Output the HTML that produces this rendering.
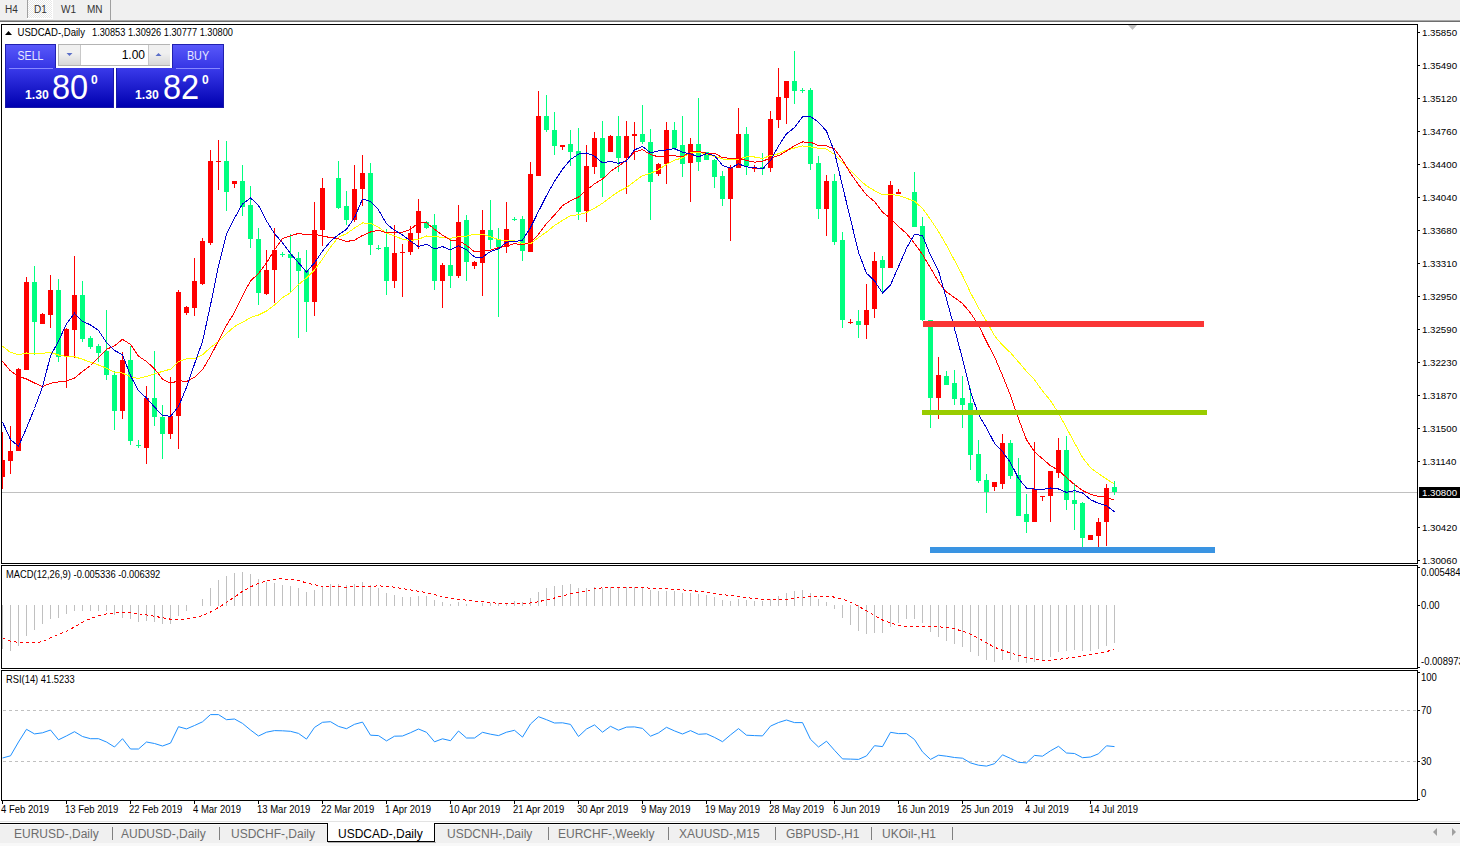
<!DOCTYPE html>
<html><head><meta charset="utf-8"><style>
html,body{margin:0;padding:0;}
body{width:1460px;height:846px;position:relative;overflow:hidden;background:#fff;font-family:"Liberation Sans",sans-serif;}
.abs{position:absolute;}
svg text{font-family:"Liberation Sans",sans-serif;}
.ax{font-size:9.7px;fill:#000;}
.dt{font-size:10.2px;fill:#000;}
.mx{font-size:10.2px;fill:#000;}
.tb{position:absolute;top:1px;height:18px;font-size:10px;color:#333;line-height:18px;}
.tab{position:absolute;top:827px;font-size:12px;color:#6d6d6d;line-height:14px;white-space:nowrap;}
.sep{position:absolute;top:827px;width:1px;height:13px;background:#808080;}
</style></head><body>
<div class="abs" style="left:0;top:0;width:1460px;height:20px;background:#f0f0f0"></div>
<div class="abs" style="left:27px;top:0;width:1px;height:18px;background:#a0a0a0"></div>
<div class="abs" style="left:28px;top:0;width:24px;height:18px;background:repeating-conic-gradient(#ffffff 0% 25%, #e8e8e8 0% 50%) 0 0/2px 2px"></div>
<div class="abs" style="left:52px;top:0;width:1px;height:19px;background:#fff"></div>
<div class="abs" style="left:27px;top:18px;width:26px;height:1px;background:#fff"></div>
<div class="abs" style="left:110px;top:0;width:1px;height:20px;background:#a0a0a0"></div>
<div class="tb" style="left:5px">H4</div>
<div class="tb" style="left:34px">D1</div>
<div class="tb" style="left:61px">W1</div>
<div class="tb" style="left:87px">MN</div>
<div class="abs" style="left:0;top:20px;width:1460px;height:1px;background:#a8a8a8"></div>
<div class="abs" style="left:0;top:21px;width:1460px;height:1px;background:#6e6e6e"></div>
<svg class="abs" style="left:0;top:0" width="1460" height="846" viewBox="0 0 1460 846">
<g shape-rendering="crispEdges">
<rect x="1" y="24" width="1416" height="539" fill="none" stroke="#000" stroke-width="1" transform="translate(0.5,0.5)"/>
</g>
<svg x="2" y="25" width="1415" height="538" viewBox="2 25 1415 538" overflow="hidden">
<rect x="2" y="492" width="1415" height="1" fill="#c0c0c0" shape-rendering="crispEdges"/>
<g shape-rendering="crispEdges"><rect x="2" y="432" width="1" height="57" fill="#ff0000"/>
<rect x="0" y="460" width="5" height="17" fill="#ff0000"/>
<rect x="10" y="426" width="1" height="48" fill="#ff0000"/>
<rect x="8" y="451" width="5" height="10" fill="#ff0000"/>
<rect x="18" y="368" width="1" height="83" fill="#ff0000"/>
<rect x="16" y="369" width="5" height="82" fill="#ff0000"/>
<rect x="26" y="277" width="1" height="93" fill="#ff0000"/>
<rect x="24" y="282" width="5" height="88" fill="#ff0000"/>
<rect x="34" y="266" width="1" height="89" fill="#00ff7f"/>
<rect x="32" y="282" width="5" height="40" fill="#00ff7f"/>
<rect x="42" y="313" width="1" height="11" fill="#ff0000"/>
<rect x="40" y="314" width="5" height="10" fill="#ff0000"/>
<rect x="50" y="275" width="1" height="53" fill="#ff0000"/>
<rect x="48" y="290" width="5" height="25" fill="#ff0000"/>
<rect x="58" y="279" width="1" height="83" fill="#00ff7f"/>
<rect x="56" y="290" width="5" height="67" fill="#00ff7f"/>
<rect x="66" y="328" width="1" height="60" fill="#ff0000"/>
<rect x="64" y="329" width="5" height="28" fill="#ff0000"/>
<rect x="74" y="256" width="1" height="102" fill="#ff0000"/>
<rect x="72" y="295" width="5" height="35" fill="#ff0000"/>
<rect x="82" y="281" width="1" height="61" fill="#00ff7f"/>
<rect x="80" y="295" width="5" height="44" fill="#00ff7f"/>
<rect x="90" y="336" width="1" height="13" fill="#00ff7f"/>
<rect x="88" y="338" width="5" height="9" fill="#00ff7f"/>
<rect x="98" y="344" width="1" height="18" fill="#00ff7f"/>
<rect x="96" y="346" width="5" height="7" fill="#00ff7f"/>
<rect x="106" y="310" width="1" height="70" fill="#00ff7f"/>
<rect x="104" y="351" width="5" height="24" fill="#00ff7f"/>
<rect x="114" y="371" width="1" height="59" fill="#00ff7f"/>
<rect x="112" y="375" width="5" height="36" fill="#00ff7f"/>
<rect x="122" y="352" width="1" height="67" fill="#ff0000"/>
<rect x="120" y="360" width="5" height="51" fill="#ff0000"/>
<rect x="130" y="346" width="1" height="99" fill="#00ff7f"/>
<rect x="128" y="360" width="5" height="81" fill="#00ff7f"/>
<rect x="138" y="440" width="1" height="8" fill="#00ff7f"/>
<rect x="136" y="445" width="5" height="1" fill="#00ff7f"/>
<rect x="146" y="386" width="1" height="78" fill="#ff0000"/>
<rect x="144" y="398" width="5" height="50" fill="#ff0000"/>
<rect x="154" y="351" width="1" height="75" fill="#00ff7f"/>
<rect x="152" y="398" width="5" height="19" fill="#00ff7f"/>
<rect x="162" y="405" width="1" height="54" fill="#00ff7f"/>
<rect x="160" y="417" width="5" height="17" fill="#00ff7f"/>
<rect x="170" y="377" width="1" height="62" fill="#ff0000"/>
<rect x="168" y="416" width="5" height="18" fill="#ff0000"/>
<rect x="178" y="290" width="1" height="159" fill="#ff0000"/>
<rect x="176" y="292" width="5" height="124" fill="#ff0000"/>
<rect x="186" y="306" width="1" height="9" fill="#ff0000"/>
<rect x="184" y="307" width="5" height="6" fill="#ff0000"/>
<rect x="194" y="258" width="1" height="58" fill="#ff0000"/>
<rect x="192" y="281" width="5" height="27" fill="#ff0000"/>
<rect x="202" y="238" width="1" height="47" fill="#ff0000"/>
<rect x="200" y="241" width="5" height="43" fill="#ff0000"/>
<rect x="210" y="150" width="1" height="95" fill="#ff0000"/>
<rect x="208" y="161" width="5" height="82" fill="#ff0000"/>
<rect x="218" y="140" width="1" height="50" fill="#ff0000"/>
<rect x="216" y="161" width="5" height="1" fill="#ff0000"/>
<rect x="226" y="141" width="1" height="70" fill="#00ff7f"/>
<rect x="224" y="161" width="5" height="31" fill="#00ff7f"/>
<rect x="234" y="181" width="1" height="7" fill="#ff0000"/>
<rect x="232" y="181" width="5" height="3" fill="#ff0000"/>
<rect x="242" y="165" width="1" height="51" fill="#00ff7f"/>
<rect x="240" y="181" width="5" height="26" fill="#00ff7f"/>
<rect x="250" y="186" width="1" height="62" fill="#00ff7f"/>
<rect x="248" y="205" width="5" height="34" fill="#00ff7f"/>
<rect x="258" y="228" width="1" height="77" fill="#00ff7f"/>
<rect x="256" y="239" width="5" height="54" fill="#00ff7f"/>
<rect x="266" y="250" width="1" height="45" fill="#ff0000"/>
<rect x="264" y="270" width="5" height="24" fill="#ff0000"/>
<rect x="274" y="228" width="1" height="75" fill="#ff0000"/>
<rect x="272" y="250" width="5" height="20" fill="#ff0000"/>
<rect x="282" y="252" width="1" height="5" fill="#00ff7f"/>
<rect x="280" y="254" width="5" height="1" fill="#00ff7f"/>
<rect x="290" y="234" width="1" height="58" fill="#00ff7f"/>
<rect x="288" y="254" width="5" height="4" fill="#00ff7f"/>
<rect x="298" y="252" width="1" height="86" fill="#00ff7f"/>
<rect x="296" y="258" width="5" height="13" fill="#00ff7f"/>
<rect x="306" y="250" width="1" height="82" fill="#00ff7f"/>
<rect x="304" y="270" width="5" height="32" fill="#00ff7f"/>
<rect x="314" y="202" width="1" height="114" fill="#ff0000"/>
<rect x="312" y="230" width="5" height="72" fill="#ff0000"/>
<rect x="322" y="178" width="1" height="68" fill="#ff0000"/>
<rect x="320" y="188" width="5" height="42" fill="#ff0000"/>
<rect x="338" y="161" width="1" height="48" fill="#00ff7f"/>
<rect x="336" y="178" width="5" height="30" fill="#00ff7f"/>
<rect x="346" y="191" width="1" height="34" fill="#00ff7f"/>
<rect x="344" y="206" width="5" height="14" fill="#00ff7f"/>
<rect x="354" y="165" width="1" height="57" fill="#ff0000"/>
<rect x="352" y="189" width="5" height="31" fill="#ff0000"/>
<rect x="362" y="155" width="1" height="51" fill="#ff0000"/>
<rect x="360" y="173" width="5" height="16" fill="#ff0000"/>
<rect x="370" y="163" width="1" height="92" fill="#00ff7f"/>
<rect x="368" y="173" width="5" height="72" fill="#00ff7f"/>
<rect x="378" y="245" width="1" height="5" fill="#00ff7f"/>
<rect x="376" y="248" width="5" height="1" fill="#00ff7f"/>
<rect x="386" y="229" width="1" height="66" fill="#00ff7f"/>
<rect x="384" y="247" width="5" height="34" fill="#00ff7f"/>
<rect x="394" y="225" width="1" height="63" fill="#ff0000"/>
<rect x="392" y="253" width="5" height="28" fill="#ff0000"/>
<rect x="402" y="244" width="1" height="53" fill="#ff0000"/>
<rect x="400" y="252" width="5" height="1" fill="#ff0000"/>
<rect x="410" y="226" width="1" height="29" fill="#ff0000"/>
<rect x="408" y="233" width="5" height="19" fill="#ff0000"/>
<rect x="418" y="199" width="1" height="50" fill="#ff0000"/>
<rect x="416" y="211" width="5" height="22" fill="#ff0000"/>
<rect x="426" y="221" width="1" height="8" fill="#00ff7f"/>
<rect x="424" y="222" width="5" height="6" fill="#00ff7f"/>
<rect x="434" y="214" width="1" height="76" fill="#00ff7f"/>
<rect x="432" y="225" width="5" height="56" fill="#00ff7f"/>
<rect x="442" y="263" width="1" height="45" fill="#ff0000"/>
<rect x="440" y="265" width="5" height="16" fill="#ff0000"/>
<rect x="450" y="238" width="1" height="50" fill="#00ff7f"/>
<rect x="448" y="265" width="5" height="11" fill="#00ff7f"/>
<rect x="458" y="205" width="1" height="73" fill="#ff0000"/>
<rect x="456" y="222" width="5" height="54" fill="#ff0000"/>
<rect x="466" y="215" width="1" height="66" fill="#00ff7f"/>
<rect x="464" y="220" width="5" height="42" fill="#00ff7f"/>
<rect x="474" y="261" width="1" height="8" fill="#ff0000"/>
<rect x="472" y="262" width="5" height="4" fill="#ff0000"/>
<rect x="482" y="210" width="1" height="86" fill="#ff0000"/>
<rect x="480" y="230" width="5" height="33" fill="#ff0000"/>
<rect x="490" y="200" width="1" height="49" fill="#00ff7f"/>
<rect x="488" y="230" width="5" height="10" fill="#00ff7f"/>
<rect x="498" y="228" width="1" height="89" fill="#00ff7f"/>
<rect x="496" y="239" width="5" height="8" fill="#00ff7f"/>
<rect x="506" y="202" width="1" height="51" fill="#ff0000"/>
<rect x="504" y="229" width="5" height="18" fill="#ff0000"/>
<rect x="514" y="217" width="1" height="4" fill="#00ff7f"/>
<rect x="512" y="219" width="5" height="1" fill="#00ff7f"/>
<rect x="522" y="216" width="1" height="45" fill="#00ff7f"/>
<rect x="520" y="219" width="5" height="32" fill="#00ff7f"/>
<rect x="530" y="162" width="1" height="90" fill="#ff0000"/>
<rect x="528" y="174" width="5" height="78" fill="#ff0000"/>
<rect x="538" y="91" width="1" height="85" fill="#ff0000"/>
<rect x="536" y="116" width="5" height="60" fill="#ff0000"/>
<rect x="546" y="95" width="1" height="37" fill="#00ff7f"/>
<rect x="544" y="116" width="5" height="14" fill="#00ff7f"/>
<rect x="554" y="112" width="1" height="43" fill="#00ff7f"/>
<rect x="552" y="130" width="5" height="16" fill="#00ff7f"/>
<rect x="562" y="145" width="1" height="5" fill="#ff0000"/>
<rect x="560" y="145" width="5" height="2" fill="#ff0000"/>
<rect x="570" y="130" width="1" height="36" fill="#00ff7f"/>
<rect x="568" y="144" width="5" height="8" fill="#00ff7f"/>
<rect x="578" y="128" width="1" height="92" fill="#00ff7f"/>
<rect x="576" y="151" width="5" height="61" fill="#00ff7f"/>
<rect x="586" y="145" width="1" height="77" fill="#ff0000"/>
<rect x="584" y="166" width="5" height="45" fill="#ff0000"/>
<rect x="594" y="132" width="1" height="42" fill="#ff0000"/>
<rect x="592" y="138" width="5" height="29" fill="#ff0000"/>
<rect x="602" y="121" width="1" height="76" fill="#00ff7f"/>
<rect x="600" y="138" width="5" height="40" fill="#00ff7f"/>
<rect x="610" y="135" width="1" height="17" fill="#ff0000"/>
<rect x="608" y="136" width="5" height="16" fill="#ff0000"/>
<rect x="618" y="116" width="1" height="56" fill="#00ff7f"/>
<rect x="616" y="136" width="5" height="22" fill="#00ff7f"/>
<rect x="626" y="121" width="1" height="73" fill="#ff0000"/>
<rect x="624" y="136" width="5" height="22" fill="#ff0000"/>
<rect x="634" y="122" width="1" height="38" fill="#ff0000"/>
<rect x="632" y="134" width="5" height="2" fill="#ff0000"/>
<rect x="642" y="105" width="1" height="39" fill="#00ff7f"/>
<rect x="640" y="134" width="5" height="8" fill="#00ff7f"/>
<rect x="650" y="129" width="1" height="91" fill="#00ff7f"/>
<rect x="648" y="142" width="5" height="40" fill="#00ff7f"/>
<rect x="658" y="163" width="1" height="13" fill="#ff0000"/>
<rect x="656" y="164" width="5" height="10" fill="#ff0000"/>
<rect x="666" y="122" width="1" height="62" fill="#ff0000"/>
<rect x="664" y="130" width="5" height="34" fill="#ff0000"/>
<rect x="674" y="122" width="1" height="28" fill="#00ff7f"/>
<rect x="672" y="130" width="5" height="18" fill="#00ff7f"/>
<rect x="682" y="116" width="1" height="61" fill="#00ff7f"/>
<rect x="680" y="145" width="5" height="19" fill="#00ff7f"/>
<rect x="690" y="138" width="1" height="64" fill="#ff0000"/>
<rect x="688" y="144" width="5" height="19" fill="#ff0000"/>
<rect x="698" y="98" width="1" height="73" fill="#00ff7f"/>
<rect x="696" y="144" width="5" height="18" fill="#00ff7f"/>
<rect x="706" y="152" width="1" height="8" fill="#00ff7f"/>
<rect x="704" y="152" width="5" height="8" fill="#00ff7f"/>
<rect x="714" y="159" width="1" height="29" fill="#00ff7f"/>
<rect x="712" y="160" width="5" height="17" fill="#00ff7f"/>
<rect x="722" y="171" width="1" height="35" fill="#00ff7f"/>
<rect x="720" y="176" width="5" height="23" fill="#00ff7f"/>
<rect x="730" y="165" width="1" height="76" fill="#ff0000"/>
<rect x="728" y="168" width="5" height="31" fill="#ff0000"/>
<rect x="738" y="108" width="1" height="60" fill="#ff0000"/>
<rect x="736" y="134" width="5" height="34" fill="#ff0000"/>
<rect x="746" y="127" width="1" height="48" fill="#00ff7f"/>
<rect x="744" y="134" width="5" height="32" fill="#00ff7f"/>
<rect x="754" y="165" width="1" height="7" fill="#ff0000"/>
<rect x="752" y="168" width="5" height="1" fill="#ff0000"/>
<rect x="762" y="153" width="1" height="22" fill="#00ff7f"/>
<rect x="760" y="167" width="5" height="2" fill="#00ff7f"/>
<rect x="770" y="111" width="1" height="61" fill="#ff0000"/>
<rect x="768" y="119" width="5" height="49" fill="#ff0000"/>
<rect x="778" y="68" width="1" height="60" fill="#ff0000"/>
<rect x="776" y="97" width="5" height="23" fill="#ff0000"/>
<rect x="786" y="81" width="1" height="43" fill="#ff0000"/>
<rect x="784" y="81" width="5" height="17" fill="#ff0000"/>
<rect x="794" y="51" width="1" height="53" fill="#00ff7f"/>
<rect x="792" y="81" width="5" height="10" fill="#00ff7f"/>
<rect x="802" y="88" width="1" height="5" fill="#00ff7f"/>
<rect x="800" y="90" width="5" height="1" fill="#00ff7f"/>
<rect x="810" y="88" width="1" height="82" fill="#00ff7f"/>
<rect x="808" y="90" width="5" height="74" fill="#00ff7f"/>
<rect x="818" y="156" width="1" height="63" fill="#00ff7f"/>
<rect x="816" y="163" width="5" height="46" fill="#00ff7f"/>
<rect x="826" y="175" width="1" height="61" fill="#ff0000"/>
<rect x="824" y="181" width="5" height="28" fill="#ff0000"/>
<rect x="834" y="174" width="1" height="71" fill="#00ff7f"/>
<rect x="832" y="181" width="5" height="61" fill="#00ff7f"/>
<rect x="842" y="232" width="1" height="96" fill="#00ff7f"/>
<rect x="840" y="240" width="5" height="80" fill="#00ff7f"/>
<rect x="850" y="319" width="1" height="5" fill="#ff0000"/>
<rect x="848" y="322" width="5" height="1" fill="#ff0000"/>
<rect x="858" y="310" width="1" height="28" fill="#00ff7f"/>
<rect x="856" y="321" width="5" height="4" fill="#00ff7f"/>
<rect x="866" y="284" width="1" height="55" fill="#ff0000"/>
<rect x="864" y="310" width="5" height="15" fill="#ff0000"/>
<rect x="874" y="252" width="1" height="66" fill="#ff0000"/>
<rect x="872" y="261" width="5" height="48" fill="#ff0000"/>
<rect x="882" y="256" width="1" height="36" fill="#00ff7f"/>
<rect x="880" y="260" width="5" height="8" fill="#00ff7f"/>
<rect x="890" y="181" width="1" height="87" fill="#ff0000"/>
<rect x="888" y="185" width="5" height="83" fill="#ff0000"/>
<rect x="898" y="189" width="1" height="5" fill="#ff0000"/>
<rect x="896" y="192" width="5" height="2" fill="#ff0000"/>
<rect x="914" y="172" width="1" height="55" fill="#00ff7f"/>
<rect x="912" y="192" width="5" height="35" fill="#00ff7f"/>
<rect x="922" y="217" width="1" height="104" fill="#00ff7f"/>
<rect x="920" y="226" width="5" height="94" fill="#00ff7f"/>
<rect x="930" y="320" width="1" height="108" fill="#00ff7f"/>
<rect x="928" y="320" width="5" height="78" fill="#00ff7f"/>
<rect x="938" y="357" width="1" height="62" fill="#ff0000"/>
<rect x="936" y="375" width="5" height="23" fill="#ff0000"/>
<rect x="946" y="371" width="1" height="14" fill="#00ff7f"/>
<rect x="944" y="376" width="5" height="9" fill="#00ff7f"/>
<rect x="954" y="370" width="1" height="35" fill="#00ff7f"/>
<rect x="952" y="383" width="5" height="16" fill="#00ff7f"/>
<rect x="962" y="376" width="1" height="52" fill="#00ff7f"/>
<rect x="960" y="398" width="5" height="7" fill="#00ff7f"/>
<rect x="970" y="388" width="1" height="82" fill="#00ff7f"/>
<rect x="968" y="403" width="5" height="52" fill="#00ff7f"/>
<rect x="978" y="440" width="1" height="43" fill="#00ff7f"/>
<rect x="976" y="454" width="5" height="27" fill="#00ff7f"/>
<rect x="986" y="474" width="1" height="39" fill="#00ff7f"/>
<rect x="984" y="480" width="5" height="12" fill="#00ff7f"/>
<rect x="994" y="482" width="1" height="9" fill="#ff0000"/>
<rect x="992" y="482" width="5" height="5" fill="#ff0000"/>
<rect x="1002" y="434" width="1" height="55" fill="#ff0000"/>
<rect x="1000" y="443" width="5" height="41" fill="#ff0000"/>
<rect x="1010" y="440" width="1" height="39" fill="#00ff7f"/>
<rect x="1008" y="443" width="5" height="33" fill="#00ff7f"/>
<rect x="1018" y="458" width="1" height="58" fill="#00ff7f"/>
<rect x="1016" y="475" width="5" height="41" fill="#00ff7f"/>
<rect x="1026" y="494" width="1" height="39" fill="#00ff7f"/>
<rect x="1024" y="514" width="5" height="8" fill="#00ff7f"/>
<rect x="1034" y="442" width="1" height="80" fill="#ff0000"/>
<rect x="1032" y="489" width="5" height="33" fill="#ff0000"/>
<rect x="1042" y="496" width="1" height="5" fill="#ff0000"/>
<rect x="1040" y="496" width="5" height="1" fill="#ff0000"/>
<rect x="1050" y="471" width="1" height="51" fill="#ff0000"/>
<rect x="1048" y="471" width="5" height="25" fill="#ff0000"/>
<rect x="1058" y="438" width="1" height="40" fill="#ff0000"/>
<rect x="1056" y="450" width="5" height="23" fill="#ff0000"/>
<rect x="1066" y="436" width="1" height="74" fill="#00ff7f"/>
<rect x="1064" y="450" width="5" height="50" fill="#00ff7f"/>
<rect x="1074" y="483" width="1" height="47" fill="#00ff7f"/>
<rect x="1072" y="500" width="5" height="4" fill="#00ff7f"/>
<rect x="1082" y="502" width="1" height="45" fill="#00ff7f"/>
<rect x="1080" y="503" width="5" height="35" fill="#00ff7f"/>
<rect x="1090" y="535" width="1" height="5" fill="#ff0000"/>
<rect x="1088" y="535" width="5" height="5" fill="#ff0000"/>
<rect x="1098" y="518" width="1" height="29" fill="#ff0000"/>
<rect x="1096" y="522" width="5" height="14" fill="#ff0000"/>
<rect x="1106" y="484" width="1" height="62" fill="#ff0000"/>
<rect x="1104" y="488" width="5" height="34" fill="#ff0000"/>
<rect x="1114" y="481" width="1" height="14" fill="#00ff7f"/>
<rect x="1112" y="487" width="5" height="5" fill="#00ff7f"/>
<polyline points="2.5,346.3 10.5,352.4 18.5,354.7 26.5,353.0 34.5,353.3 42.5,353.3 50.5,352.4 58.5,355.0 66.5,356.5 74.5,356.7 82.5,359.3 90.5,362.2 98.5,365.0 106.5,368.2 114.5,372.3 122.5,373.1 130.5,376.6 138.5,378.5 146.5,376.4 154.5,373.9 162.5,371.4 170.5,369.2 178.5,361.7 186.5,358.7 194.5,358.7 202.5,354.8 210.5,347.6 218.5,341.4 226.5,333.6 234.5,326.5 242.5,322.3 250.5,317.6 258.5,315.0 266.5,311.0 274.5,305.1 282.5,297.7 290.5,292.8 298.5,284.7 306.5,277.9 314.5,269.9 322.5,259.0 330.5,247.1 338.5,237.2 346.5,233.7 354.5,228.1 362.5,223.0 370.5,223.1 378.5,227.3 386.5,233.0 394.5,235.9 402.5,239.3 410.5,240.5 418.5,239.2 426.5,236.0 434.5,236.6 442.5,237.3 450.5,238.3 458.5,236.6 466.5,236.1 474.5,234.2 482.5,234.2 490.5,236.7 498.5,239.7 506.5,240.8 514.5,240.7 522.5,243.7 530.5,243.7 538.5,237.6 546.5,232.0 554.5,225.5 562.5,220.4 570.5,215.6 578.5,214.7 586.5,212.5 594.5,208.2 602.5,203.3 610.5,197.2 618.5,191.5 626.5,187.5 634.5,181.4 642.5,175.7 650.5,173.4 658.5,169.8 666.5,164.2 674.5,160.3 682.5,157.7 690.5,152.6 698.5,152.1 706.5,154.2 714.5,156.4 722.5,158.9 730.5,160.0 738.5,159.1 746.5,156.9 754.5,157.0 762.5,158.4 770.5,155.6 778.5,153.8 786.5,150.1 794.5,148.0 802.5,145.9 810.5,147.0 818.5,148.2 826.5,149.1 834.5,154.5 842.5,162.7 850.5,170.2 858.5,178.8 866.5,185.8 874.5,190.6 882.5,195.0 890.5,194.3 898.5,195.5 906.5,198.3 914.5,201.2 922.5,208.5 930.5,219.4 938.5,231.6 946.5,245.3 954.5,260.4 962.5,275.4 970.5,292.7 978.5,307.8 986.5,321.3 994.5,335.7 1002.5,345.2 1010.5,352.7 1018.5,361.9 1026.5,371.3 1034.5,379.8 1042.5,390.9 1050.5,400.6 1058.5,413.2 1066.5,427.9 1074.5,442.7 1082.5,457.5 1090.5,467.8 1098.5,473.6 1106.5,479.0 1114.5,484.1" fill="none" stroke="#ffff00" stroke-width="1"/>
<polyline points="2.5,361.5 10.5,370.9 18.5,376.3 26.5,379.0 34.5,383.0 42.5,386.5 50.5,383.3 58.5,381.9 66.5,381.0 74.5,378.0 82.5,371.5 90.5,365.5 98.5,357.3 106.5,349.3 114.5,345.8 122.5,339.3 130.5,344.4 138.5,356.1 146.5,361.5 154.5,368.8 162.5,379.1 170.5,383.3 178.5,380.7 186.5,381.5 194.5,377.4 202.5,369.8 210.5,356.1 218.5,340.8 226.5,325.2 234.5,312.4 242.5,295.7 250.5,280.9 258.5,273.5 266.5,263.0 274.5,249.9 282.5,238.4 290.5,235.9 298.5,233.4 306.5,234.9 314.5,234.1 322.5,236.0 330.5,237.6 338.5,238.7 346.5,241.5 354.5,240.2 362.5,235.5 370.5,232.0 378.5,230.4 386.5,232.6 394.5,232.5 402.5,232.1 410.5,229.4 418.5,222.8 426.5,222.7 434.5,229.3 442.5,235.2 450.5,240.1 458.5,240.2 466.5,245.4 474.5,251.8 482.5,250.7 490.5,250.1 498.5,247.7 506.5,246.0 514.5,243.6 522.5,244.9 530.5,242.3 538.5,234.3 546.5,223.5 554.5,215.0 562.5,205.7 570.5,200.7 578.5,197.1 586.5,190.3 594.5,183.7 602.5,179.2 610.5,171.3 618.5,166.2 626.5,160.3 634.5,152.0 642.5,149.7 650.5,154.5 658.5,156.9 666.5,155.7 674.5,155.9 682.5,156.7 690.5,151.9 698.5,151.6 706.5,153.2 714.5,153.2 722.5,157.7 730.5,158.3 738.5,158.2 746.5,160.4 754.5,162.2 762.5,161.2 770.5,158.0 778.5,155.7 786.5,151.0 794.5,145.8 802.5,142.0 810.5,142.1 818.5,145.6 826.5,145.9 834.5,149.0 842.5,159.9 850.5,173.3 858.5,184.7 866.5,194.9 874.5,201.5 882.5,212.2 890.5,218.4 898.5,226.4 906.5,233.6 914.5,243.3 922.5,254.5 930.5,268.0 938.5,281.9 946.5,292.0 954.5,297.6 962.5,303.6 970.5,312.9 978.5,325.1 986.5,341.6 994.5,356.9 1002.5,375.4 1010.5,395.6 1018.5,418.7 1026.5,439.8 1034.5,451.8 1042.5,458.8 1050.5,465.7 1058.5,470.3 1066.5,477.6 1074.5,484.6 1082.5,490.5 1090.5,494.4 1098.5,496.5 1106.5,496.8 1114.5,500.4" fill="none" stroke="#ff0000" stroke-width="1"/>
<polyline points="2.5,422.1 10.5,439.5 18.5,446.2 26.5,428.1 34.5,408.5 42.5,387.0 50.5,355.9 58.5,341.2 66.5,323.8 74.5,313.2 82.5,321.4 90.5,324.9 98.5,330.5 106.5,342.6 114.5,350.4 122.5,354.8 130.5,375.6 138.5,390.8 146.5,398.0 154.5,407.1 162.5,415.5 170.5,416.2 178.5,406.5 186.5,387.4 194.5,364.0 202.5,341.6 210.5,305.0 218.5,266.1 226.5,234.1 234.5,218.2 242.5,203.9 250.5,197.9 258.5,205.4 266.5,220.9 274.5,233.7 282.5,242.7 290.5,253.6 298.5,262.8 306.5,271.9 314.5,262.8 322.5,251.1 330.5,241.4 338.5,234.6 346.5,229.3 354.5,217.6 362.5,199.1 370.5,201.3 378.5,209.8 386.5,223.8 394.5,230.3 402.5,234.9 410.5,241.1 418.5,246.6 426.5,244.1 434.5,248.9 442.5,246.6 450.5,249.9 458.5,245.6 466.5,249.7 474.5,257.0 482.5,257.3 490.5,251.4 498.5,248.9 506.5,242.1 514.5,241.7 522.5,240.1 530.5,227.6 538.5,211.4 546.5,195.6 554.5,181.2 562.5,169.2 570.5,159.6 578.5,154.1 586.5,153.0 594.5,156.1 602.5,162.9 610.5,161.4 618.5,163.3 626.5,161.0 634.5,149.9 642.5,146.4 650.5,152.9 658.5,150.9 666.5,150.0 674.5,148.5 682.5,152.4 690.5,153.9 698.5,156.8 706.5,153.6 714.5,155.5 722.5,165.4 730.5,168.2 738.5,163.9 746.5,166.9 754.5,167.6 762.5,168.9 770.5,160.6 778.5,146.0 786.5,133.7 794.5,127.6 802.5,117.0 810.5,116.5 818.5,122.2 826.5,131.2 834.5,152.0 842.5,186.1 850.5,219.0 858.5,252.4 866.5,273.3 874.5,280.8 882.5,293.1 890.5,284.9 898.5,266.7 906.5,248.2 914.5,234.2 922.5,235.7 930.5,255.3 938.5,270.6 946.5,299.1 954.5,328.6 962.5,358.9 970.5,391.5 978.5,414.5 986.5,428.0 994.5,443.3 1002.5,451.6 1010.5,462.7 1018.5,478.5 1026.5,488.1 1034.5,489.1 1042.5,489.6 1050.5,488.0 1058.5,489.0 1066.5,492.4 1074.5,490.7 1082.5,493.0 1090.5,499.6 1098.5,503.4 1106.5,505.7 1114.5,511.8" fill="none" stroke="#0000cc" stroke-width="1"/></g>
<g shape-rendering="crispEdges">
<rect x="923" y="321" width="281" height="6" fill="#fa3535"/>
<rect x="922" y="410" width="285" height="5" fill="#99cc00"/>
<rect x="930" y="547" width="285" height="6" fill="#3a94e2"/>
</g>
</svg>
<polygon points="1128,25 1137,25 1132.5,30" fill="#c0c0c0"/>
<g shape-rendering="crispEdges">
<rect x="1.5" y="565.5" width="1416" height="103" fill="none" stroke="#000"/>
<rect x="1.5" y="670.5" width="1416" height="130" fill="none" stroke="#000"/>
</g>
<svg x="2" y="566" width="1415" height="102" viewBox="2 566 1415 102" overflow="hidden">
<g shape-rendering="crispEdges"><rect x="2" y="605" width="1" height="44" fill="#c0c0c0"/>
<rect x="10" y="605" width="1" height="46" fill="#c0c0c0"/>
<rect x="18" y="605" width="1" height="41" fill="#c0c0c0"/>
<rect x="26" y="605" width="1" height="31" fill="#c0c0c0"/>
<rect x="34" y="605" width="1" height="25" fill="#c0c0c0"/>
<rect x="42" y="605" width="1" height="19" fill="#c0c0c0"/>
<rect x="50" y="605" width="1" height="14" fill="#c0c0c0"/>
<rect x="58" y="605" width="1" height="13" fill="#c0c0c0"/>
<rect x="66" y="605" width="1" height="9" fill="#c0c0c0"/>
<rect x="74" y="605" width="1" height="6" fill="#c0c0c0"/>
<rect x="82" y="605" width="1" height="6" fill="#c0c0c0"/>
<rect x="90" y="605" width="1" height="6" fill="#c0c0c0"/>
<rect x="98" y="605" width="1" height="6" fill="#c0c0c0"/>
<rect x="106" y="605" width="1" height="6" fill="#c0c0c0"/>
<rect x="114" y="605" width="1" height="10" fill="#c0c0c0"/>
<rect x="122" y="605" width="1" height="13" fill="#c0c0c0"/>
<rect x="130" y="605" width="1" height="14" fill="#c0c0c0"/>
<rect x="138" y="605" width="1" height="17" fill="#c0c0c0"/>
<rect x="146" y="605" width="1" height="16" fill="#c0c0c0"/>
<rect x="154" y="605" width="1" height="17" fill="#c0c0c0"/>
<rect x="162" y="605" width="1" height="19" fill="#c0c0c0"/>
<rect x="170" y="605" width="1" height="19" fill="#c0c0c0"/>
<rect x="178" y="605" width="1" height="11" fill="#c0c0c0"/>
<rect x="186" y="605" width="1" height="6" fill="#c0c0c0"/>
<rect x="202" y="599" width="1" height="7" fill="#c0c0c0"/>
<rect x="210" y="588" width="1" height="18" fill="#c0c0c0"/>
<rect x="218" y="580" width="1" height="26" fill="#c0c0c0"/>
<rect x="226" y="576" width="1" height="30" fill="#c0c0c0"/>
<rect x="234" y="573" width="1" height="33" fill="#c0c0c0"/>
<rect x="242" y="572" width="1" height="34" fill="#c0c0c0"/>
<rect x="250" y="574" width="1" height="32" fill="#c0c0c0"/>
<rect x="258" y="579" width="1" height="27" fill="#c0c0c0"/>
<rect x="266" y="582" width="1" height="24" fill="#c0c0c0"/>
<rect x="274" y="583" width="1" height="23" fill="#c0c0c0"/>
<rect x="282" y="585" width="1" height="21" fill="#c0c0c0"/>
<rect x="290" y="586" width="1" height="20" fill="#c0c0c0"/>
<rect x="298" y="588" width="1" height="18" fill="#c0c0c0"/>
<rect x="306" y="592" width="1" height="14" fill="#c0c0c0"/>
<rect x="314" y="590" width="1" height="16" fill="#c0c0c0"/>
<rect x="322" y="587" width="1" height="19" fill="#c0c0c0"/>
<rect x="330" y="584" width="1" height="22" fill="#c0c0c0"/>
<rect x="338" y="584" width="1" height="22" fill="#c0c0c0"/>
<rect x="346" y="585" width="1" height="21" fill="#c0c0c0"/>
<rect x="354" y="584" width="1" height="22" fill="#c0c0c0"/>
<rect x="362" y="582" width="1" height="24" fill="#c0c0c0"/>
<rect x="370" y="585" width="1" height="21" fill="#c0c0c0"/>
<rect x="378" y="588" width="1" height="18" fill="#c0c0c0"/>
<rect x="386" y="593" width="1" height="13" fill="#c0c0c0"/>
<rect x="394" y="595" width="1" height="11" fill="#c0c0c0"/>
<rect x="402" y="597" width="1" height="9" fill="#c0c0c0"/>
<rect x="410" y="597" width="1" height="9" fill="#c0c0c0"/>
<rect x="418" y="596" width="1" height="10" fill="#c0c0c0"/>
<rect x="426" y="596" width="1" height="10" fill="#c0c0c0"/>
<rect x="434" y="600" width="1" height="6" fill="#c0c0c0"/>
<rect x="442" y="602" width="1" height="4" fill="#c0c0c0"/>
<rect x="450" y="604" width="1" height="2" fill="#c0c0c0"/>
<rect x="458" y="602" width="1" height="4" fill="#c0c0c0"/>
<rect x="466" y="604" width="1" height="2" fill="#c0c0c0"/>
<rect x="482" y="603" width="1" height="3" fill="#c0c0c0"/>
<rect x="490" y="603" width="1" height="3" fill="#c0c0c0"/>
<rect x="498" y="603" width="1" height="3" fill="#c0c0c0"/>
<rect x="506" y="603" width="1" height="3" fill="#c0c0c0"/>
<rect x="514" y="601" width="1" height="5" fill="#c0c0c0"/>
<rect x="522" y="602" width="1" height="4" fill="#c0c0c0"/>
<rect x="530" y="598" width="1" height="8" fill="#c0c0c0"/>
<rect x="538" y="592" width="1" height="14" fill="#c0c0c0"/>
<rect x="546" y="588" width="1" height="18" fill="#c0c0c0"/>
<rect x="554" y="586" width="1" height="20" fill="#c0c0c0"/>
<rect x="562" y="585" width="1" height="21" fill="#c0c0c0"/>
<rect x="570" y="584" width="1" height="22" fill="#c0c0c0"/>
<rect x="578" y="588" width="1" height="18" fill="#c0c0c0"/>
<rect x="586" y="588" width="1" height="18" fill="#c0c0c0"/>
<rect x="594" y="587" width="1" height="19" fill="#c0c0c0"/>
<rect x="602" y="588" width="1" height="18" fill="#c0c0c0"/>
<rect x="610" y="587" width="1" height="19" fill="#c0c0c0"/>
<rect x="618" y="588" width="1" height="18" fill="#c0c0c0"/>
<rect x="626" y="587" width="1" height="19" fill="#c0c0c0"/>
<rect x="634" y="587" width="1" height="19" fill="#c0c0c0"/>
<rect x="642" y="587" width="1" height="19" fill="#c0c0c0"/>
<rect x="650" y="590" width="1" height="16" fill="#c0c0c0"/>
<rect x="658" y="591" width="1" height="15" fill="#c0c0c0"/>
<rect x="666" y="591" width="1" height="15" fill="#c0c0c0"/>
<rect x="674" y="591" width="1" height="15" fill="#c0c0c0"/>
<rect x="682" y="593" width="1" height="13" fill="#c0c0c0"/>
<rect x="690" y="593" width="1" height="13" fill="#c0c0c0"/>
<rect x="698" y="594" width="1" height="12" fill="#c0c0c0"/>
<rect x="706" y="595" width="1" height="11" fill="#c0c0c0"/>
<rect x="714" y="597" width="1" height="9" fill="#c0c0c0"/>
<rect x="722" y="600" width="1" height="6" fill="#c0c0c0"/>
<rect x="730" y="601" width="1" height="5" fill="#c0c0c0"/>
<rect x="738" y="599" width="1" height="7" fill="#c0c0c0"/>
<rect x="746" y="600" width="1" height="6" fill="#c0c0c0"/>
<rect x="754" y="601" width="1" height="5" fill="#c0c0c0"/>
<rect x="762" y="601" width="1" height="5" fill="#c0c0c0"/>
<rect x="770" y="599" width="1" height="7" fill="#c0c0c0"/>
<rect x="778" y="596" width="1" height="10" fill="#c0c0c0"/>
<rect x="786" y="593" width="1" height="13" fill="#c0c0c0"/>
<rect x="794" y="591" width="1" height="15" fill="#c0c0c0"/>
<rect x="802" y="590" width="1" height="16" fill="#c0c0c0"/>
<rect x="810" y="593" width="1" height="13" fill="#c0c0c0"/>
<rect x="818" y="599" width="1" height="7" fill="#c0c0c0"/>
<rect x="826" y="602" width="1" height="4" fill="#c0c0c0"/>
<rect x="834" y="605" width="1" height="4" fill="#c0c0c0"/>
<rect x="842" y="605" width="1" height="13" fill="#c0c0c0"/>
<rect x="850" y="605" width="1" height="20" fill="#c0c0c0"/>
<rect x="858" y="605" width="1" height="26" fill="#c0c0c0"/>
<rect x="866" y="605" width="1" height="29" fill="#c0c0c0"/>
<rect x="874" y="605" width="1" height="28" fill="#c0c0c0"/>
<rect x="882" y="605" width="1" height="28" fill="#c0c0c0"/>
<rect x="890" y="605" width="1" height="22" fill="#c0c0c0"/>
<rect x="898" y="605" width="1" height="18" fill="#c0c0c0"/>
<rect x="906" y="605" width="1" height="14" fill="#c0c0c0"/>
<rect x="914" y="605" width="1" height="14" fill="#c0c0c0"/>
<rect x="922" y="605" width="1" height="18" fill="#c0c0c0"/>
<rect x="930" y="605" width="1" height="27" fill="#c0c0c0"/>
<rect x="938" y="605" width="1" height="32" fill="#c0c0c0"/>
<rect x="946" y="605" width="1" height="36" fill="#c0c0c0"/>
<rect x="954" y="605" width="1" height="39" fill="#c0c0c0"/>
<rect x="962" y="605" width="1" height="42" fill="#c0c0c0"/>
<rect x="970" y="605" width="1" height="47" fill="#c0c0c0"/>
<rect x="978" y="605" width="1" height="51" fill="#c0c0c0"/>
<rect x="986" y="605" width="1" height="55" fill="#c0c0c0"/>
<rect x="994" y="605" width="1" height="57" fill="#c0c0c0"/>
<rect x="1002" y="605" width="1" height="55" fill="#c0c0c0"/>
<rect x="1010" y="605" width="1" height="55" fill="#c0c0c0"/>
<rect x="1018" y="605" width="1" height="57" fill="#c0c0c0"/>
<rect x="1026" y="605" width="1" height="58" fill="#c0c0c0"/>
<rect x="1034" y="605" width="1" height="57" fill="#c0c0c0"/>
<rect x="1042" y="605" width="1" height="55" fill="#c0c0c0"/>
<rect x="1050" y="605" width="1" height="52" fill="#c0c0c0"/>
<rect x="1058" y="605" width="1" height="47" fill="#c0c0c0"/>
<rect x="1066" y="605" width="1" height="46" fill="#c0c0c0"/>
<rect x="1074" y="605" width="1" height="45" fill="#c0c0c0"/>
<rect x="1082" y="605" width="1" height="46" fill="#c0c0c0"/>
<rect x="1090" y="605" width="1" height="46" fill="#c0c0c0"/>
<rect x="1098" y="605" width="1" height="44" fill="#c0c0c0"/>
<rect x="1106" y="605" width="1" height="41" fill="#c0c0c0"/>
<rect x="1114" y="605" width="1" height="38" fill="#c0c0c0"/>
<polyline points="2.5,637.9 10.5,641.2 18.5,642.3 26.5,642.7 34.5,642.7 42.5,641.7 50.5,637.9 58.5,634.6 66.5,631.3 74.5,626.9 82.5,622.4 90.5,618.5 98.5,615.8 106.5,613.8 114.5,612.9 122.5,612.7 130.5,612.9 138.5,613.8 146.5,615.0 154.5,616.3 162.5,617.7 170.5,619.2 178.5,619.6 186.5,619.1 194.5,617.8 202.5,615.7 210.5,612.0 218.5,607.5 226.5,602.5 234.5,597.0 242.5,591.4 250.5,586.8 258.5,583.5 266.5,580.9 274.5,579.1 282.5,578.8 290.5,579.4 298.5,580.7 306.5,582.8 314.5,584.8 322.5,586.2 330.5,586.7 338.5,586.9 346.5,587.1 354.5,586.9 362.5,586.5 370.5,586.3 378.5,585.9 386.5,586.3 394.5,587.2 402.5,588.6 410.5,590.0 418.5,591.3 426.5,592.7 434.5,594.7 442.5,596.5 450.5,598.2 458.5,599.2 466.5,600.2 474.5,601.1 482.5,601.8 490.5,602.6 498.5,603.4 506.5,603.7 514.5,603.6 522.5,603.4 530.5,603.0 538.5,601.7 546.5,599.9 554.5,598.0 562.5,595.9 570.5,593.8 578.5,592.1 586.5,590.7 594.5,588.9 602.5,587.8 610.5,587.2 618.5,587.1 626.5,587.3 634.5,587.5 642.5,587.8 650.5,588.1 658.5,588.5 666.5,588.9 674.5,589.2 682.5,589.9 690.5,590.5 698.5,591.3 706.5,592.3 714.5,593.4 722.5,594.6 730.5,595.6 738.5,596.6 746.5,597.6 754.5,598.5 762.5,599.4 770.5,599.9 778.5,600.0 786.5,599.5 794.5,598.4 802.5,597.2 810.5,596.5 818.5,596.3 826.5,596.4 834.5,597.1 842.5,599.1 850.5,602.2 858.5,606.3 866.5,610.9 874.5,615.7 882.5,620.0 890.5,623.0 898.5,625.3 906.5,626.5 914.5,626.6 922.5,626.4 930.5,626.5 938.5,626.8 946.5,627.6 954.5,628.9 962.5,631.1 970.5,634.3 978.5,638.3 986.5,642.9 994.5,647.2 1002.5,650.4 1010.5,653.0 1018.5,655.4 1026.5,657.6 1034.5,659.2 1042.5,660.2 1050.5,660.2 1058.5,659.4 1066.5,658.2 1074.5,657.1 1082.5,656.1 1090.5,654.8 1098.5,653.3 1106.5,651.5 1114.5,649.6" fill="none" stroke="#ff0000" stroke-width="1" stroke-dasharray="3,3"/></g>
</svg>
<svg x="2" y="671" width="1415" height="129" viewBox="2 671 1415 129" overflow="hidden">
<polyline points="2.5,758.0 10.5,755.8 18.5,742.0 26.5,729.3 34.5,733.9 42.5,732.8 50.5,730.0 58.5,739.8 66.5,735.9 74.5,731.7 82.5,736.5 90.5,738.7 98.5,738.7 106.5,742.0 114.5,747.0 122.5,738.7 130.5,749.0 138.5,749.0 146.5,742.0 154.5,743.5 162.5,746.0 170.5,743.1 178.5,726.7 186.5,728.9 194.5,725.5 202.5,721.8 210.5,714.6 218.5,714.6 226.5,719.7 234.5,719.0 242.5,723.4 250.5,730.0 258.5,736.0 266.5,732.2 274.5,730.6 282.5,730.8 290.5,731.3 298.5,733.4 306.5,739.1 314.5,727.4 322.5,722.3 330.5,721.7 338.5,726.4 346.5,728.7 354.5,724.3 362.5,722.1 370.5,735.2 378.5,735.6 386.5,740.9 394.5,736.2 402.5,736.0 410.5,732.7 418.5,729.0 426.5,732.3 434.5,741.8 442.5,738.8 450.5,740.7 458.5,731.0 466.5,738.0 474.5,738.0 482.5,732.3 490.5,734.2 498.5,735.6 506.5,732.2 514.5,730.3 522.5,737.1 530.5,724.0 538.5,716.7 546.5,719.7 554.5,723.0 562.5,722.8 570.5,724.4 578.5,736.5 586.5,729.0 594.5,724.9 602.5,732.2 610.5,726.3 618.5,730.2 626.5,727.1 634.5,726.9 642.5,728.4 650.5,736.2 658.5,732.9 666.5,727.3 674.5,730.9 682.5,734.0 690.5,730.6 698.5,734.3 706.5,733.8 714.5,737.4 722.5,741.7 730.5,734.9 738.5,728.6 746.5,735.2 754.5,735.6 762.5,735.9 770.5,726.1 778.5,722.5 786.5,720.0 794.5,722.6 802.5,722.6 810.5,739.3 818.5,747.0 826.5,741.2 834.5,750.3 842.5,758.9 850.5,759.1 858.5,759.4 866.5,755.9 874.5,745.7 882.5,746.6 890.5,732.3 898.5,733.6 906.5,733.6 914.5,739.5 922.5,751.9 930.5,759.4 938.5,755.2 946.5,756.2 954.5,757.5 962.5,758.2 970.5,762.9 978.5,765.2 986.5,766.1 994.5,763.7 1002.5,754.8 1010.5,758.4 1018.5,762.3 1026.5,762.9 1034.5,755.4 1042.5,756.2 1050.5,750.8 1058.5,746.3 1066.5,753.0 1074.5,753.5 1082.5,757.7 1090.5,757.0 1098.5,753.8 1106.5,745.8 1114.5,746.6" fill="none" stroke="#1e90ff" stroke-width="1"/>
</svg>
<g shape-rendering="crispEdges"><rect x="1418" y="32" width="2" height="1" fill="#000"/>
<text x="1422" y="36" class="ax">1.35850</text>
<rect x="1418" y="65" width="2" height="1" fill="#000"/>
<text x="1422" y="69" class="ax">1.35490</text>
<rect x="1418" y="98" width="2" height="1" fill="#000"/>
<text x="1422" y="102" class="ax">1.35120</text>
<rect x="1418" y="131" width="2" height="1" fill="#000"/>
<text x="1422" y="135" class="ax">1.34760</text>
<rect x="1418" y="164" width="2" height="1" fill="#000"/>
<text x="1422" y="168" class="ax">1.34400</text>
<rect x="1418" y="197" width="2" height="1" fill="#000"/>
<text x="1422" y="201" class="ax">1.34040</text>
<rect x="1418" y="230" width="2" height="1" fill="#000"/>
<text x="1422" y="234" class="ax">1.33680</text>
<rect x="1418" y="263" width="2" height="1" fill="#000"/>
<text x="1422" y="267" class="ax">1.33310</text>
<rect x="1418" y="296" width="2" height="1" fill="#000"/>
<text x="1422" y="300" class="ax">1.32950</text>
<rect x="1418" y="329" width="2" height="1" fill="#000"/>
<text x="1422" y="333" class="ax">1.32590</text>
<rect x="1418" y="362" width="2" height="1" fill="#000"/>
<text x="1422" y="366" class="ax">1.32230</text>
<rect x="1418" y="395" width="2" height="1" fill="#000"/>
<text x="1422" y="399" class="ax">1.31870</text>
<rect x="1418" y="428" width="2" height="1" fill="#000"/>
<text x="1422" y="432" class="ax">1.31500</text>
<rect x="1418" y="461" width="2" height="1" fill="#000"/>
<text x="1422" y="465" class="ax">1.31140</text>
<rect x="1418" y="527" width="2" height="1" fill="#000"/>
<text x="1422" y="531" class="ax">1.30420</text>
<rect x="1418" y="560" width="2" height="1" fill="#000"/>
<text x="1422" y="564" class="ax">1.30060</text>
<rect x="1419" y="487" width="41" height="11" fill="#000"/>
<text x="1422" y="496" class="ax" style="fill:#fff">1.30800</text>
<rect x="2" y="801" width="1" height="3" fill="#000"/>
<text x="1" y="813" class="dt" textLength="48.08" lengthAdjust="spacingAndGlyphs">4 Feb 2019</text>
<rect x="66" y="801" width="1" height="3" fill="#000"/>
<text x="65" y="813" class="dt" textLength="53.36" lengthAdjust="spacingAndGlyphs">13 Feb 2019</text>
<rect x="130" y="801" width="1" height="3" fill="#000"/>
<text x="129" y="813" class="dt" textLength="53.36" lengthAdjust="spacingAndGlyphs">22 Feb 2019</text>
<rect x="194" y="801" width="1" height="3" fill="#000"/>
<text x="193" y="813" class="dt" textLength="48.06" lengthAdjust="spacingAndGlyphs">4 Mar 2019</text>
<rect x="258" y="801" width="1" height="3" fill="#000"/>
<text x="257" y="813" class="dt" textLength="53.34" lengthAdjust="spacingAndGlyphs">13 Mar 2019</text>
<rect x="322" y="801" width="1" height="3" fill="#000"/>
<text x="321" y="813" class="dt" textLength="53.34" lengthAdjust="spacingAndGlyphs">22 Mar 2019</text>
<rect x="386" y="801" width="1" height="3" fill="#000"/>
<text x="385" y="813" class="dt" textLength="45.97" lengthAdjust="spacingAndGlyphs">1 Apr 2019</text>
<rect x="450" y="801" width="1" height="3" fill="#000"/>
<text x="449" y="813" class="dt" textLength="51.25" lengthAdjust="spacingAndGlyphs">10 Apr 2019</text>
<rect x="514" y="801" width="1" height="3" fill="#000"/>
<text x="513" y="813" class="dt" textLength="51.25" lengthAdjust="spacingAndGlyphs">21 Apr 2019</text>
<rect x="578" y="801" width="1" height="3" fill="#000"/>
<text x="577" y="813" class="dt" textLength="51.25" lengthAdjust="spacingAndGlyphs">30 Apr 2019</text>
<rect x="642" y="801" width="1" height="3" fill="#000"/>
<text x="641" y="813" class="dt" textLength="49.66" lengthAdjust="spacingAndGlyphs">9 May 2019</text>
<rect x="706" y="801" width="1" height="3" fill="#000"/>
<text x="705" y="813" class="dt" textLength="54.94" lengthAdjust="spacingAndGlyphs">19 May 2019</text>
<rect x="770" y="801" width="1" height="3" fill="#000"/>
<text x="769" y="813" class="dt" textLength="54.94" lengthAdjust="spacingAndGlyphs">28 May 2019</text>
<rect x="834" y="801" width="1" height="3" fill="#000"/>
<text x="833" y="813" class="dt" textLength="47.02" lengthAdjust="spacingAndGlyphs">6 Jun 2019</text>
<rect x="898" y="801" width="1" height="3" fill="#000"/>
<text x="897" y="813" class="dt" textLength="52.3" lengthAdjust="spacingAndGlyphs">16 Jun 2019</text>
<rect x="962" y="801" width="1" height="3" fill="#000"/>
<text x="961" y="813" class="dt" textLength="52.3" lengthAdjust="spacingAndGlyphs">25 Jun 2019</text>
<rect x="1026" y="801" width="1" height="3" fill="#000"/>
<text x="1025" y="813" class="dt" textLength="43.84" lengthAdjust="spacingAndGlyphs">4 Jul 2019</text>
<rect x="1090" y="801" width="1" height="3" fill="#000"/>
<text x="1089" y="813" class="dt" textLength="49.13" lengthAdjust="spacingAndGlyphs">14 Jul 2019</text>
<text x="1421" y="576" class="mx" textLength="39.6" lengthAdjust="spacingAndGlyphs">0.005484</text>
<rect x="1418" y="605" width="2" height="1" fill="#000"/>
<text x="1421" y="609" class="mx" textLength="18.5" lengthAdjust="spacingAndGlyphs">0.00</text>
<text x="1421" y="665" class="mx" textLength="42.8" lengthAdjust="spacingAndGlyphs">-0.008973</text>
<rect x="1418" y="667" width="2" height="1" fill="#000"/>
<rect x="1418" y="567" width="2" height="1" fill="#000"/>
<rect x="1418" y="672" width="2" height="1" fill="#000"/>
<rect x="1418" y="799" width="2" height="1" fill="#000"/>
<text x="1421" y="681" class="mx" textLength="15.899999999999999" lengthAdjust="spacingAndGlyphs">100</text>
<text x="1421" y="714" class="mx" textLength="10.6" lengthAdjust="spacingAndGlyphs">70</text>
<text x="1421" y="765" class="mx" textLength="10.6" lengthAdjust="spacingAndGlyphs">30</text>
<text x="1421" y="797" class="mx" textLength="5.3" lengthAdjust="spacingAndGlyphs">0</text>
<rect x="1418" y="710" width="2" height="1" fill="#000"/>
<line x1="3" y1="710.5" x2="1417" y2="710.5" stroke="#c0c0c0" stroke-dasharray="3,3"/>
<rect x="1418" y="761" width="2" height="1" fill="#000"/>
<line x1="3" y1="761.5" x2="1417" y2="761.5" stroke="#c0c0c0" stroke-dasharray="3,3"/></g>
<polygon points="5,35 12,35 8.5,31" fill="#000"/>
<text x="17.5" y="36" class="ax" style="font-size:10.3px" textLength="67.5" lengthAdjust="spacingAndGlyphs">USDCAD-,Daily</text><text x="92" y="36" class="ax" style="font-size:10.3px" textLength="141" lengthAdjust="spacingAndGlyphs">1.30853 1.30926 1.30777 1.30800</text>
<text x="6" y="578" class="ax" style="font-size:10.2px" textLength="154.3" lengthAdjust="spacingAndGlyphs">MACD(12,26,9) -0.005336 -0.006392</text>
<text x="6" y="683" class="ax" style="font-size:10.2px" textLength="68.6" lengthAdjust="spacingAndGlyphs">RSI(14) 41.5233</text>
</svg>
<!-- trade panel -->
<div class="abs" style="left:5px;top:44px;width:51px;height:25px;background:linear-gradient(#5858fa,#3434e4);border:1px solid #2020b0;border-bottom:none;box-sizing:border-box"></div>
<div class="abs" style="left:5px;top:44px;width:51px;height:24px;color:#e8e8ff;font-size:12px;line-height:24px;text-align:center;transform:scaleX(0.88)">SELL</div>
<div class="abs" style="left:172px;top:44px;width:52px;height:25px;background:linear-gradient(#5858fa,#3434e4);border:1px solid #2020b0;border-bottom:none;box-sizing:border-box"></div>
<div class="abs" style="left:172px;top:44px;width:52px;height:24px;color:#e8e8ff;font-size:12px;line-height:24px;text-align:center;transform:scaleX(0.9)">BUY</div>
<div class="abs" style="left:58px;top:44px;width:112px;height:22px;background:#fff;border:1px solid #b4b4b4;box-sizing:border-box"></div>
<div class="abs" style="left:59px;top:45px;width:21px;height:20px;background:linear-gradient(#f0f0f0 40%,#d8d8d8);border-right:1px solid #c8c8c8"></div>
<div class="abs" style="left:148px;top:45px;width:21px;height:20px;background:linear-gradient(#f0f0f0 40%,#d8d8d8);border-left:1px solid #c8c8c8"></div>
<svg class="abs" style="left:0;top:0" width="230" height="70"><polygon points="66.5,53 72.5,53 69.5,56" fill="#5a6fc8"/><polygon points="155.5,56 161.5,56 158.5,53" fill="#5a6fc8"/></svg>
<div class="abs" style="left:80px;top:46px;width:65px;height:19px;font-size:12px;line-height:19px;text-align:right;color:#000">1.00</div>
<div class="abs" style="left:5px;top:68px;width:109px;height:40px;background:linear-gradient(#3a3aea,#0000b0);border:1px solid #1818a8;border-top:none;box-sizing:border-box"></div>
<div class="abs" style="left:116px;top:68px;width:108px;height:40px;background:linear-gradient(#3a3aea,#0000b0);border:1px solid #1818a8;border-top:none;box-sizing:border-box"></div>
<div class="abs" style="left:9px;top:68px;width:44px;height:1px;background:#8888ff"></div>
<div class="abs" style="left:176px;top:68px;width:44px;height:1px;background:#8888ff"></div>
<div class="abs" style="left:25px;top:88px;font-size:13px;font-weight:bold;color:#fff;line-height:14px;transform:scaleX(0.94);transform-origin:0 0">1.30</div>
<div class="abs" style="left:52px;top:69px;font-size:35px;color:#fff;line-height:36px;transform:scaleX(0.93);transform-origin:0 0">80</div>
<div class="abs" style="left:91px;top:73px;font-size:12px;font-weight:bold;color:#fff;line-height:14px">0</div>
<div class="abs" style="left:135px;top:88px;font-size:13px;font-weight:bold;color:#fff;line-height:14px;transform:scaleX(0.94);transform-origin:0 0">1.30</div>
<div class="abs" style="left:163px;top:69px;font-size:35px;color:#fff;line-height:36px;transform:scaleX(0.93);transform-origin:0 0">82</div>
<div class="abs" style="left:202px;top:73px;font-size:12px;font-weight:bold;color:#fff;line-height:14px">0</div>
<!-- tabs -->
<div class="abs" style="left:0;top:821px;width:1460px;height:1px;background:#e3e3e3"></div>
<div class="abs" style="left:0;top:823px;width:1460px;height:1px;background:#000"></div>
<div class="abs" style="left:0;top:824px;width:1460px;height:19px;background:#f0f0f0"></div>
<div class="abs" style="left:0;top:824px;width:1460px;height:1px;background:#fafafa"></div>
<div class="abs" style="left:0;top:843px;width:1460px;height:3px;background:#f8f8f8"></div>
<div class="abs" style="left:327px;top:823px;width:108px;height:19px;background:#fff;border:1px solid #000;border-top:none;box-sizing:border-box"></div>
<div class="abs" style="left:328px;top:842px;width:108px;height:1px;background:#b0b0b0"></div>
<div class="tab" style="left:14px">EURUSD-,Daily</div>
<div class="sep" style="left:112px"></div>
<div class="tab" style="left:121px">AUDUSD-,Daily</div>
<div class="sep" style="left:219px"></div>
<div class="tab" style="left:231px">USDCHF-,Daily</div>
<div class="tab" style="left:338px;color:#000">USDCAD-,Daily</div>
<div class="tab" style="left:447px">USDCNH-,Daily</div>
<div class="sep" style="left:548px"></div>
<div class="tab" style="left:558px">EURCHF-,Weekly</div>
<div class="sep" style="left:668px"></div>
<div class="tab" style="left:679px">XAUUSD-,M15</div>
<div class="sep" style="left:775px"></div>
<div class="tab" style="left:786px">GBPUSD-,H1</div>
<div class="sep" style="left:871px"></div>
<div class="tab" style="left:882px">UKOil-,H1</div>
<div class="sep" style="left:952px"></div>
<svg class="abs" style="left:1420px;top:824px" width="40" height="19"><polygon points="17,4 17,12 13,8" fill="#a0a0a0"/><polygon points="32,4 32,12 36,8" fill="#a0a0a0"/></svg>
</body></html>
